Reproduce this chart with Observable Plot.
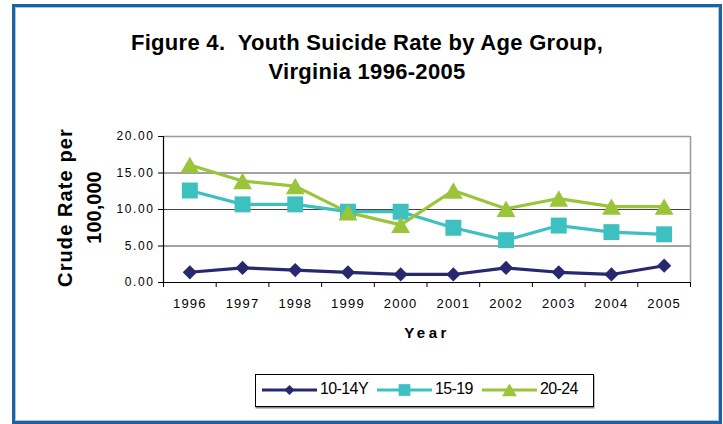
<!DOCTYPE html>
<html>
<head>
<meta charset="utf-8">
<script src="https://cdn.jsdelivr.net/npm/d3@7"></script>
<script src="https://cdn.jsdelivr.net/npm/@observablehq/plot@0.6"></script>
<style>
  body { margin: 0; width: 723px; height: 424px; background: #fff; position: relative; overflow: hidden;
         font-family: "Liberation Sans", Arial, sans-serif; color: #000; }
  #frame { position: absolute; left: 12px; top: 4px; width: 710px; height: 420px; box-sizing: border-box;
           border: 3px solid #1d62a0; box-shadow: inset 1px 1px 0 #a9c6e2, inset -1px -1px 0 #a9c6e2; }
  #title { position: absolute; left: 12px; width: 710px; top: 28px; text-align: center; font-weight: bold;
           font-size: 22px; letter-spacing: 0.3px; line-height: 29px; white-space: pre; }
  #chart { position: absolute; left: 0; top: 100px; }
  #legend { position: absolute; left: 255px; top: 374px; }
</style>
</head>
<body>
<div id="frame"></div>
<div id="title">Figure 4.  Youth Suicide Rate by Age Group,
Virginia 1996-2005</div>
<div id="chart"></div>
<div id="legend"></div>
<script>
// Crude suicide rate per 100,000, Virginia youth, by age group
const years = [1996, 1997, 1998, 1999, 2000, 2001, 2002, 2003, 2004, 2005];
const rate10to14 = [1.4, 2.0, 1.7, 1.4, 1.1, 1.1, 2.0, 1.4, 1.1, 2.3];
const rate15to19 = [12.6, 10.7, 10.7, 9.7, 9.7, 7.5, 5.8, 7.8, 6.9, 6.6];
const rate20to24 = [16.1, 13.9, 13.2, 9.6, 7.9, 12.6, 10.1, 11.5, 10.4, 10.4];

const groups = ["10-14Y", "15-19", "20-24"];
const groupColors = ["#28286f", "#3ec0c0", "#9ac43a"];
const groupSymbols = ["diamond2", "square", "triangle"];
const yTicks = [0, 5, 10, 15, 20];

const rows = [rate10to14, rate15to19, rate20to24].flatMap((vals, i) =>
  vals.map((rate, j) => ({ year: years[j], rate, group: groups[i] })));

// category edges for the tick marks between year labels
const yearEdges = [...years.map(y => y - 0.5), years[years.length - 1] + 0.5];
const xDomain = [yearEdges[0], yearEdges[yearEdges.length - 1]];

const font = "'Liberation Sans', Arial, sans-serif";
const markerR = { "10-14Y": 6.4, "15-19": 9, "20-24": 7 };
const markerDy = { "10-14Y": 0, "15-19": 0, "20-24": 2.7 };

const chart = Plot.plot({
  width: 723,
  height: 250,
  marginTop: 36,
  marginBottom: 68,
  marginLeft: 163,
  marginRight: 33,
  x: { type: "linear", domain: xDomain },
  y: { domain: [0, 20] },
  color: { domain: groups, range: groupColors },
  symbol: { domain: groups, range: groupSymbols },
  style: { fontFamily: font, fontSize: "13px", color: "#000", background: "transparent", overflow: "visible" },
  marks: [
    Plot.ruleY([5, 10, 15], { stroke: "#444", strokeWidth: 1 }),
    Plot.ruleY([20], { stroke: "#999", strokeWidth: 1.5 }),
    Plot.ruleX([xDomain[1]], { stroke: "#999", strokeWidth: 1.5 }),
    Plot.ruleY([0], { stroke: "#000", strokeWidth: 1.2 }),
    Plot.ruleX([xDomain[0]], { stroke: "#000", strokeWidth: 1.2 }),
    Plot.axisY({ ticks: yTicks, tickFormat: d3.format(".2f"), tickSize: 5, tickPadding: 4,
                 label: null, fontSize: 12, stroke: "#000" }),
    Plot.axisX({ ticks: years, tickSize: 0, tickPadding: 16, tickFormat: d => String(d),
                 label: null, fontSize: 13 }),
    Plot.axisX({ ticks: yearEdges, tickSize: 5, tickFormat: () => "", label: null, stroke: "#000" }),
    Plot.text(["Crude Rate per\n100,000"], { frameAnchor: "left", textAnchor: "middle", dx: -86, dy: -2,
                 rotate: -90, fontSize: 20, fontWeight: "bold", lineHeight: 1.45 }),
    Plot.text(["Year"], { frameAnchor: "bottom", dy: 55, fontSize: 15, fontWeight: "bold" }),
    Plot.line(rows, { x: "year", y: "rate", z: "group", stroke: "group", strokeWidth: 3.2 }),
    ...groups.map(g => Plot.dot(rows.filter(d => d.group === g), {
      x: "year", y: "rate", fill: "group", symbol: "group", r: markerR[g], dy: markerDy[g], stroke: "none"
    }))
  ]
});
document.getElementById("chart").appendChild(chart);

// letter spacing for the axis texts
const svg = d3.select(chart);
svg.selectAll("text").filter(function () { return this.textContent === "Year"; })
  .attr("letter-spacing", "3.5px");
svg.selectAll("tspan").filter(function () { return this.textContent === "Crude Rate per"; })
  .attr("letter-spacing", "1.1px");
svg.selectAll("[aria-label='x-axis tick label'] text").attr("letter-spacing", "1.2px");
svg.selectAll("[aria-label='y-axis tick label'] text").attr("letter-spacing", "1.6px");

// legend
const legendW = 339, legendH = 33;
const lg = d3.select("#legend").append("svg")
  .attr("width", legendW + 2).attr("height", legendH + 3);
lg.append("rect").attr("x", 0.5).attr("y", 1.5).attr("width", legendW).attr("height", legendH)
  .attr("fill", "#888");
lg.append("rect").attr("x", 0.5).attr("y", 0.5).attr("width", legendW - 1).attr("height", legendH - 1)
  .attr("fill", "#fff").attr("stroke", "#000");
const legendMarkerR = [4.6, 6.6, 5.4];
const legendSymbols = [d3.symbolDiamond2, d3.symbolSquare, d3.symbolTriangle];
let lx = 7;
const cy = 16;
groups.forEach((g, i) => {
  const item = lg.append("g");
  item.append("line").attr("x1", lx).attr("x2", lx + 55).attr("y1", cy).attr("y2", cy)
    .attr("stroke", groupColors[i]).attr("stroke-width", 3.2);
  const r = legendMarkerR[i];
  item.append("path")
    .attr("d", d3.symbol(legendSymbols[i], r * r * Math.PI)())
    .attr("transform", `translate(${lx + 27.5},${cy + (i === 2 ? 2 : 0)})`)
    .attr("fill", groupColors[i]);
  const t = item.append("text").attr("x", lx + 58).attr("y", cy - 1.5)
    .attr("dominant-baseline", "central")
    .attr("font-family", font).attr("font-size", 16).attr("letter-spacing", "-0.6px")
    .text(g);
  lx += 58 + t.node().getComputedTextLength() + 9;
});
</script>
</body>
</html>
